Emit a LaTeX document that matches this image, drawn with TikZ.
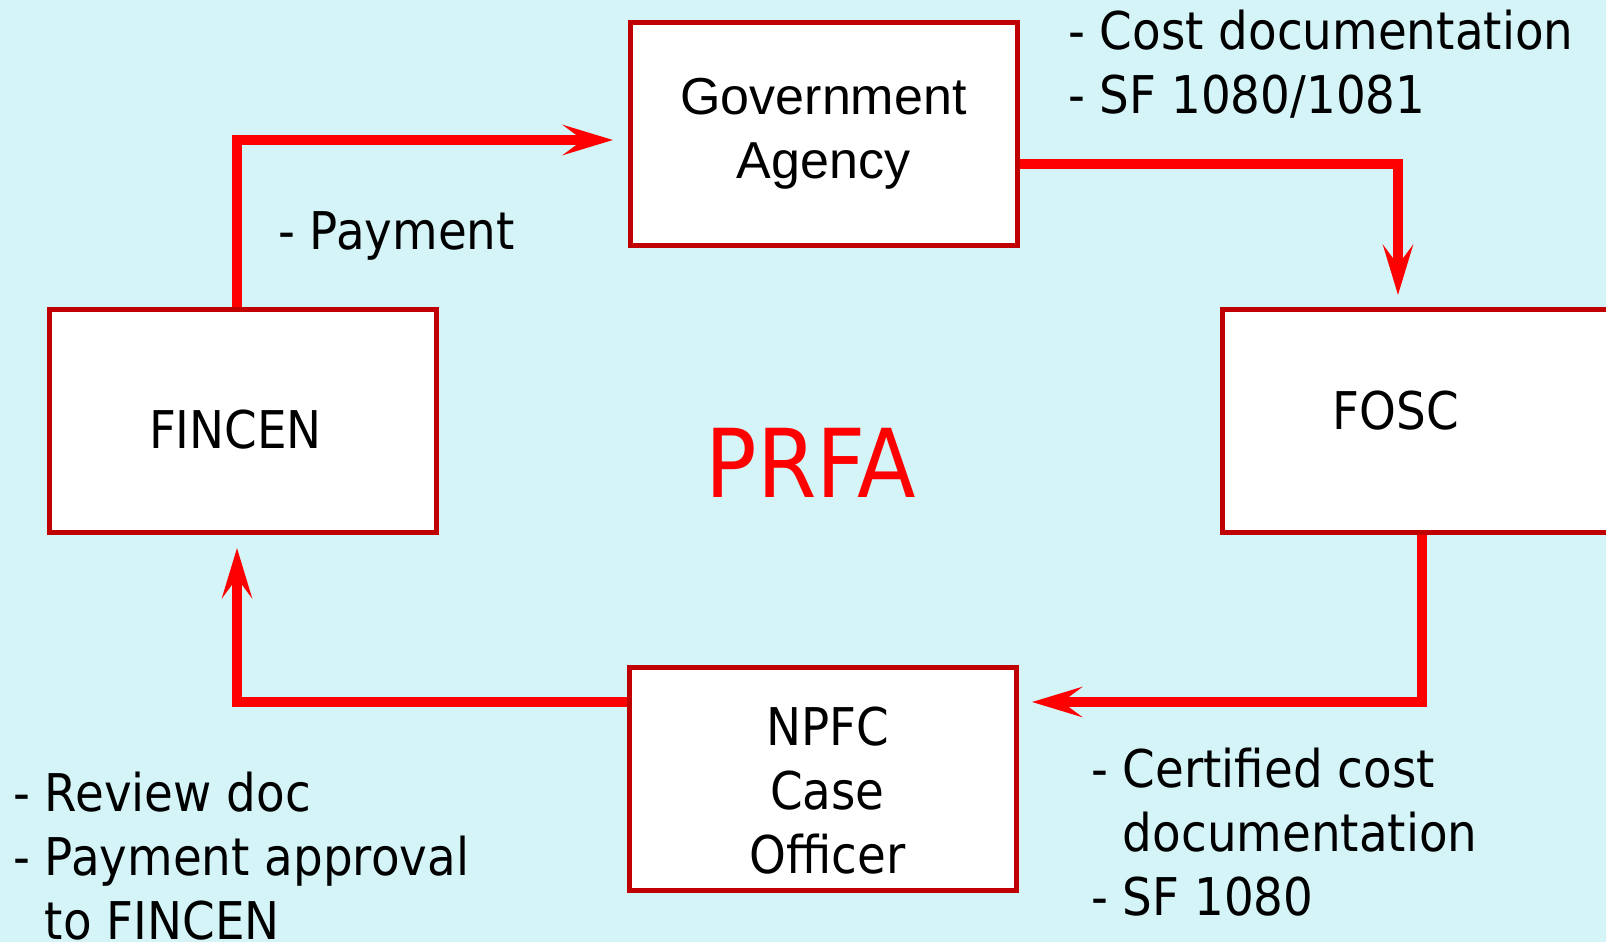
\documentclass[tikz,border=0pt]{standalone}
\usepackage{fontspec}
\setmainfont[FakeStretch=0.9]{DejaVu Sans}
\newfontfamily\agencyfont{Liberation Sans}
\usetikzlibrary{arrows.meta}
\definecolor{sky}{RGB}{212,244,248}
\definecolor{boxred}{RGB}{192,0,0}
\definecolor{flowred}{RGB}{255,0,0}

\begin{document}
\begin{tikzpicture}[x=1pt,y=-1pt,
  box/.style={draw=boxred, line width=5pt, fill=white, minimum width=387pt, minimum height=223pt,
    outer sep=0pt, inner sep=0pt, align=center, font=\fontsize{52}{64}\selectfont},
  flow/.style={flowred, line width=10pt, shorten <=2.5pt, -{Stealth[length=50pt,width=30pt,inset=20pt]}},
  note/.style={inner sep=0pt, align=left, font=\fontsize{52}{64}\selectfont}]

\useasboundingbox (0,0) rectangle (1606,942);
\clip (0,0) rectangle (1606,942);
\fill[sky] (0,0) rectangle (1606,942);

\node[box, font=\agencyfont\fontsize{52}{64}\selectfont] (gov) at (823.5,134) {Government\\Agency};
\node[box, text height=54pt, text depth=0pt] (fincen) at (242.5,421) {FINCEN\hspace*{14pt}};
\node[box, text height=38pt, text depth=22pt] (fosc) at (1416,421) {FOSC\hspace*{40pt}};
\node[box] (npfc) at (822.5,779) {\rule{0pt}{62pt}\hspace*{10pt}NPFC\\\hspace*{10pt}Case\\\hspace*{10pt}Officer};

\node[text=flowred, font=\fontsize{95}{110}\selectfont, anchor=base] (prfa) at (811,497) {PRFA};

\draw[flow, shorten >=17pt] ([xshift=-5.5pt]fincen.north) |- ([yshift=-6pt]gov.west);
\draw[flow, shorten >=14.5pt] ([yshift=-30pt]gov.east) -| ([xshift=-18pt]fosc.north);
\draw[flow, shorten >=16pt] ([xshift=6pt]fosc.south) |- ([yshift=77pt]npfc.east);
\draw[flow, shorten >=15.5pt] ([yshift=77pt]npfc.west) -| ([xshift=-5.5pt]fincen.south);

\node[note, anchor=north west] (costnote) at (1068,9.5) {- Cost documentation\\- SF 1080/1081};
\node[note, anchor=base west] (paynote) at (278,249) {- Payment};
\node[note, anchor=north west] (certnote) at (1091,747.5) {- Certified cost\\\phantom{- }documentation\\- SF 1080};
\node[note, anchor=north west] (reviewnote) at (13,771.5) {- Review doc\\- Payment approval\\\phantom{- }to FINCEN};
\end{tikzpicture}
\end{document}
